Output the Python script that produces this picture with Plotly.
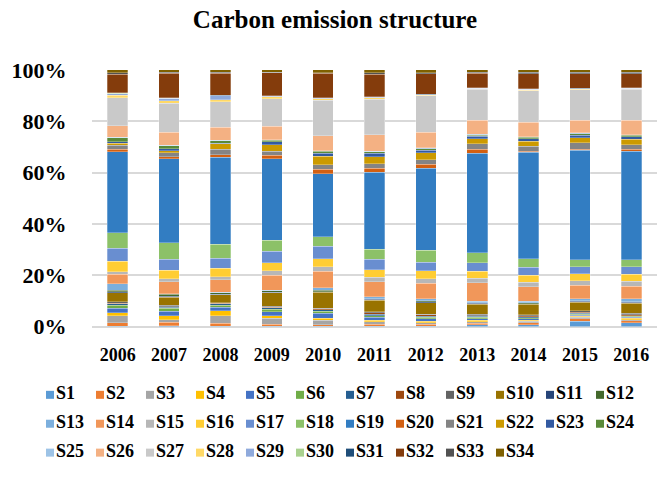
import plotly.graph_objects as go

# Years on the category axis
years = ["2006", "2007", "2008", "2009", "2010", "2011", "2012", "2013", "2014", "2015", "2016"]

# Share of each source (S1..S34) per year, in percent
s1 = [0.2, 0.3, 0.2, 0.2, 0.2, 0.2, 0.2, 0.7, 0.7, 2.1, 1.5]
s2 = [1.2, 1.3, 1.2, 0.7, 0.5, 0.7, 0.7, 0.7, 0.8, 0.9, 0.7]
s3 = [2.9, 1.0, 2.9, 2.3, 1.7, 0.9, 0.6, 0.5, 0.5, 0.7, 0.5]
s4 = [1.0, 1.7, 1.8, 1.0, 0.9, 0.7, 0.6, 0.6, 0.5, 0.4, 0.5]
s5 = [1.9, 1.7, 1.5, 1.6, 1.9, 1.2, 1.0, 0.6, 0.5, 0.4, 0.4]
s6 = [1.0, 1.1, 0.8, 1.0, 0.9, 0.6, 0.6, 0.5, 0.5, 0.4, 0.4]
s7 = [0.6, 0.5, 0.5, 0.6, 0.5, 0.6, 0.4, 0.4, 0.4, 0.4, 0.3]
s8 = [0.2, 0.2, 0.2, 0.3, 0.3, 0.6, 0.5, 0.3, 0.3, 0.3, 0.3]
s9 = [0.6, 0.4, 0.2, 0.3, 0.3, 0.3, 0.3, 0.5, 0.5, 0.6, 0.6]
s10 = [3.6, 3.2, 3.2, 5.3, 6.2, 4.5, 4.5, 4.0, 4.0, 3.4, 3.9]
s11 = [0.3, 0.4, 0.2, 0.2, 0.2, 0.3, 0.3, 0.3, 0.3, 0.3, 0.3]
s12 = [0.7, 0.7, 0.6, 0.7, 0.6, 0.3, 0.3, 0.3, 0.3, 0.3, 0.3]
s13 = [2.5, 0.3, 0.2, 0.2, 1.1, 0.7, 0.8, 0.6, 0.6, 0.7, 1.1]
s14 = [3.6, 4.6, 4.9, 5.9, 6.4, 5.9, 6.1, 7.2, 5.6, 5.3, 5.0]
s15 = [1.0, 1.1, 1.1, 1.7, 1.7, 1.7, 1.8, 1.7, 1.8, 1.7, 1.8]
s16 = [4.0, 3.4, 3.4, 3.2, 3.2, 3.1, 3.1, 2.7, 2.7, 2.8, 2.8]
s17 = [5.1, 4.2, 3.8, 4.5, 4.8, 4.0, 3.4, 3.4, 3.2, 2.7, 2.9]
s18 = [6.1, 6.4, 5.5, 4.4, 3.7, 4.0, 4.5, 3.9, 3.4, 2.9, 2.7]
s19 = [31.3, 32.6, 34.0, 32.0, 24.7, 30.0, 32.0, 38.8, 41.6, 42.9, 42.2]
s20 = [1.0, 0.85, 1.0, 1.5, 1.8, 1.6, 1.6, 1.6, 0.3, 0.3, 0.9]
s21 = [1.5, 1.6, 2.1, 1.6, 1.8, 1.8, 1.8, 2.2, 2.0, 2.6, 1.8]
s22 = [0.85, 0.7, 2.1, 2.5, 3.3, 2.8, 2.8, 2.0, 2.0, 2.0, 2.0]
s23 = [0.6, 0.85, 0.3, 1.2, 1.2, 1.2, 0.9, 0.9, 0.9, 1.0, 1.0]
s24 = [1.6, 1.0, 1.0, 0.6, 0.7, 0.6, 0.5, 0.5, 0.7, 0.6, 0.6]
s25 = [0.2, 0.2, 0.2, 0.2, 0.2, 0.2, 0.5, 0.3, 0.2, 0.3, 0.2]
s26 = [4.4, 5.1, 5.0, 5.3, 5.9, 6.6, 6.1, 5.5, 5.5, 5.0, 5.7]
s27 = [10.9, 11.3, 10.1, 10.7, 13.8, 13.7, 14.1, 12.0, 12.5, 11.8, 12.0]
s28 = [1.0, 0.85, 0.7, 0.9, 0.7, 0.7, 0.2, 0.2, 0.2, 0.2, 0.2]
s29 = [0.6, 1.0, 1.5, 0.2, 0.2, 0.2, 0.2, 0.2, 0.2, 0.2, 0.2]
s30 = [0.1, 0.1, 0.1, 0.1, 0.1, 0.1, 0.1, 0.1, 0.1, 0.1, 0.1]
s31 = [0.1, 0.1, 0.1, 0.1, 0.1, 0.1, 0.1, 0.1, 0.1, 0.1, 0.1]
s32 = [7.3, 9.5, 8.6, 9.1, 9.5, 8.8, 8.1, 5.8, 6.0, 5.8, 5.5]
s33 = [0.6, 0.4, 0.4, 0.2, 0.3, 0.5, 0.4, 0.4, 0.6, 0.6, 0.6]
s34 = [1.1, 1.0, 1.0, 0.9, 1.1, 1.2, 1.1, 0.9, 0.9, 0.9, 0.9]

series_values = [s1, s2, s3, s4, s5, s6, s7, s8, s9, s10, s11, s12,
                 s13, s14, s15, s16, s17, s18, s19, s20, s21, s22, s23, s24,
                 s25, s26, s27, s28, s29, s30, s31, s32, s33, s34]
series_names = ["S%d" % (i + 1) for i in range(len(series_values))]

# Office-style series palette
colors = [
    "#5B9BD5", "#ED7D31", "#A5A5A5", "#FFC000", "#4472C4", "#70AD47",
    "#255E91", "#9E480E", "#636363", "#997300", "#264478", "#43682B",
    "#7CAFDD", "#F1975A", "#B7B7B7", "#FFCD33", "#698ED0", "#8CC168",
    "#327DC2", "#D26012", "#848484", "#CC9A00", "#335AA1", "#5A8A39",
    "#9DC3E6", "#F4B183", "#C9C9C9", "#FFD966", "#8FAADC", "#A9D18E",
    "#1F4E79", "#843C0C", "#525252", "#7F6000",
]

W, H = 670, 477
SERIF = "Liberation Serif"

fig = go.Figure()

for name, vals, col in zip(series_names, series_values, colors):
    fig.add_trace(go.Bar(
        x=years, y=vals, name=name,
        marker=dict(color=col, line=dict(color="rgba(255,255,255,0.55)", width=0.5)),
        showlegend=False, hoverinfo="skip",
    ))

# Legend drawn on a pixel-space overlay: 12 entries per row
per_row = 12
leg_x0, leg_dx = 50, 50.0
leg_y0, leg_dy = 404, 30.5
leg_x = [leg_x0 + (i % per_row) * leg_dx for i in range(len(series_names))]
leg_y = [leg_y0 + (i // per_row) * leg_dy for i in range(len(series_names))]
fig.add_trace(go.Scatter(
    x=leg_x, y=leg_y, xaxis="x2", yaxis="y2",
    mode="markers+text", text=["<b>%s</b>" % n for n in series_names],
    textposition="middle right",
    marker=dict(symbol="square", size=8, color=colors, line=dict(width=0)),
    textfont=dict(family=SERIF, size=18, color="black"),
    showlegend=False, hoverinfo="skip", cliponaxis=False,
))

fig.update_layout(
    width=W, height=H,
    margin=dict(l=0, r=0, t=0, b=0),
    barmode="stack", barnorm="percent", bargap=0.6,
    paper_bgcolor="white", plot_bgcolor="rgba(0,0,0,0)",
    title=dict(
        text="<b>Carbon emission structure</b>",
        x=0.5, xanchor="center", xref="container",
        y=1 - 19 / H, yanchor="middle", yref="container",
        font=dict(family=SERIF, size=25, color="black"),
    ),
    xaxis=dict(
        domain=[92 / W, 657 / W],
        tickmode="array", tickvals=years, ticktext=["<b>%s</b>" % y for y in years],
        showgrid=False, showline=False, zeroline=False,
        ticks="outside", ticklen=12, tickcolor="rgba(0,0,0,0)",
        tickfont=dict(family=SERIF, size=18, color="black"),
    ),
    yaxis=dict(
        domain=[145 / H, 416 / H], range=[0, 100],
        tickmode="array", tickvals=[0, 20, 40, 60, 80, 100],
        ticktext=["<b>%d%%</b>" % v for v in [0, 20, 40, 60, 80, 100]],
        showgrid=True, gridcolor="#D9D9D9", gridwidth=1.5,
        zeroline=True, zerolinecolor="#D9D9D9", zerolinewidth=1.5,
        showline=False,
        ticks="outside", ticklen=20, tickcolor="rgba(0,0,0,0)",
        tickfont=dict(family=SERIF, size=22, color="black"),
    ),
    xaxis2=dict(domain=[0, 1], range=[0, W], visible=False, anchor="y2", fixedrange=True),
    yaxis2=dict(domain=[0, 1], range=[H, 0], visible=False, anchor="x2", fixedrange=True),
)

fig.write_html("out.html")
